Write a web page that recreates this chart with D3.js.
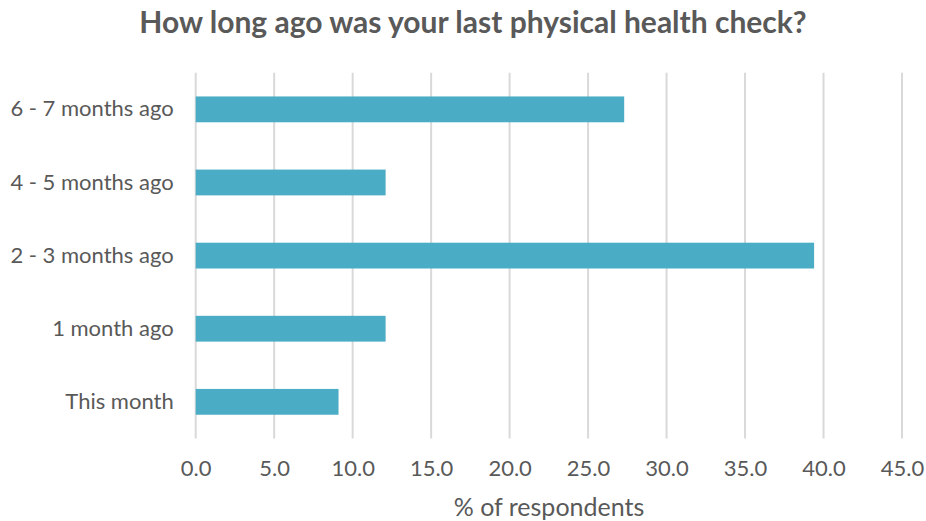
<!DOCTYPE html>
<html>
<head>
<meta charset="utf-8">
<script src="https://cdn.jsdelivr.net/npm/d3@7"></script>
<style>
  html, body { margin: 0; padding: 0; background: #fff; }
  svg text { font-family: Lato, "Open Sans", "Liberation Sans", sans-serif; fill: #595959; }
</style>
</head>
<body>
<svg id="chart" width="926" height="521"></svg>
<script>
// Survey answers, top to bottom as shown
const categories = ["6 - 7 months ago", "4 - 5 months ago", "2 - 3 months ago", "1 month ago", "This month"];
const percentValues = [27.3, 12.1, 39.4, 12.1, 9.1];
const tickValues = [0, 5, 10, 15, 20, 25, 30, 35, 40, 45];

const titleText = "How long ago was your last physical health check?";
const axisTitle = "% of respondents";

const FONT = 'Lato, "Open Sans", "Liberation Sans", sans-serif';
const svg = d3.select("#chart");
const plot = { left: 195.7, right: 902, top: 72.8, bottom: 438.4 };

const x = d3.scaleLinear().domain([0, 45]).range([plot.left, plot.right]);
const y = d3.scaleBand().domain(categories).range([plot.top, plot.bottom]).paddingInner(0.647).paddingOuter(0.3235);

// vertical gridlines
svg.append("g").selectAll("line").data(tickValues).join("line")
  .attr("x1", d => x(d)).attr("x2", d => x(d))
  .attr("y1", plot.top).attr("y2", plot.bottom)
  .attr("stroke", "#d9d9d9").attr("stroke-width", 2);

// bars
svg.append("g").selectAll("rect").data(percentValues).join("rect")
  .attr("x", x(0))
  .attr("y", (d, i) => y(categories[i]))
  .attr("width", d => x(d) - x(0))
  .attr("height", y.bandwidth())
  .attr("fill", "#4bacc6");

// category labels
const yAxis = d3.axisLeft(y).tickSize(0).tickPadding(22);
const gy = svg.append("g").attr("transform", `translate(${plot.left},0)`).call(yAxis);
gy.select(".domain").remove();
gy.selectAll("text").attr("font-size", 22).style("fill", "#595959").style("font-family", FONT);

// value axis labels
const xAxis = d3.axisBottom(x).tickValues(tickValues).tickFormat(d3.format(".1f")).tickSize(0).tickPadding(22);
const gx = svg.append("g").attr("transform", `translate(0,${plot.bottom})`).call(xAxis);
gx.select(".domain").remove();
gx.selectAll("text").attr("font-size", 22).style("fill", "#595959").style("font-family", FONT);

// titles
svg.append("text").attr("x", 473).attr("y", 33).attr("text-anchor", "middle")
  .attr("font-size", 30).attr("font-weight", "bold").text(titleText);
svg.append("text").attr("x", 549).attr("y", 516).attr("text-anchor", "middle")
  .attr("font-size", 25).text(axisTitle);
</script>
</body>
</html>
